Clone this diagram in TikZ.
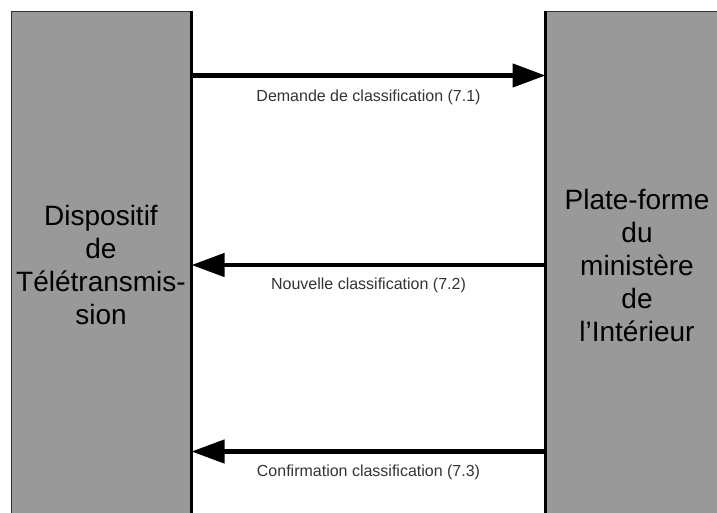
\documentclass[tikz,border=0pt]{standalone}
\usepackage{fontspec}
\setmainfont{Liberation Sans}
\usetikzlibrary{arrows.meta}
\definecolor{boxgray}{HTML}{999999}

\begin{document}
\begin{tikzpicture}[x=1pt, y=-1pt,
        box/.style={draw=black!80, fill=boxgray, line width=1pt, inner sep=0pt,
            minimum height=508pt, align=center, font=\fontsize{28}{33}\selectfont},
        edge/.style={line width=2.5pt},
        msg/.style={line width=4.5pt, -{Triangle[length=33pt, width=23pt]}},
        lbl/.style={inner sep=0pt, text=black!80, font=\fontsize{16}{19}\selectfont}]
            \clip (0, 0) rectangle (717, 512);
            \draw (101, 265) node[box, minimum width=180pt](dev){Dispositif\\de\\Télétransmis-\\sion};
            \draw (637, 265) node[box, minimum width=182pt](plat){Plate-forme\\du\\ministère\\de\\l’Intérieur};
            \draw[edge] (dev.north east) -- (dev.south east);
            \draw[edge] (plat.north west) -- (plat.south west);
            \draw[msg] ([yshift=-65pt]dev.north east) -- ([yshift=-65pt]plat.north west)
                node[lbl, midway, below=12pt](m1){Demande de classification (7.1)};
            \draw[msg] (plat.west) -- (dev.east)
                node[lbl, midway, below=11pt](m2){Nouvelle classification (7.2)};
            \draw[msg] ([yshift=-441pt]plat.north west) -- ([yshift=-441pt]dev.north east)
                node[lbl, midway, below=11pt](m3){Confirmation classification (7.3)};
        \end{tikzpicture}
\end{document}
